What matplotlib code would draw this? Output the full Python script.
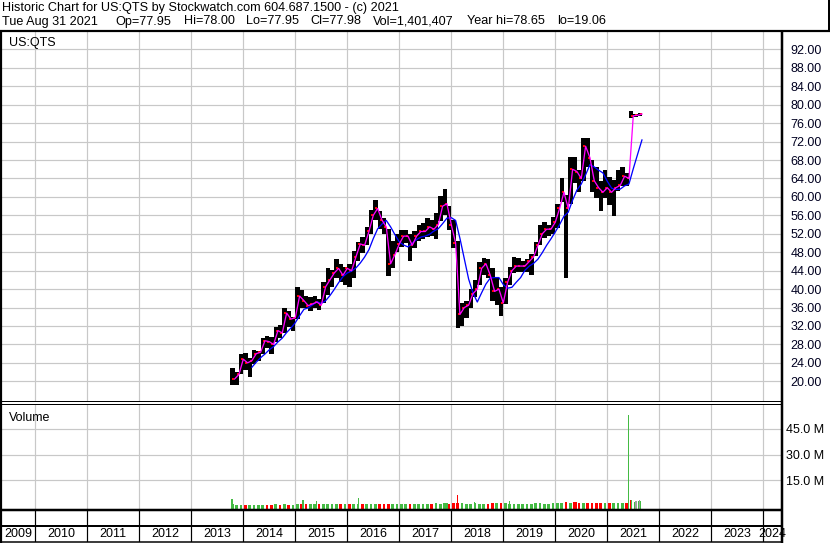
import matplotlib
matplotlib.use("Agg")
import matplotlib.pyplot as plt
import numpy as np
import pandas as pd

plt.rcParams['font.family'] = ['Liberation Sans', 'DejaVu Sans']

# ---------------- data (monthly) ----------------
start_year, start_month = 2013, 10
highs = [22.8, 22.0, 26.0,
         26.2, 25.0, 26.8, 26.5, 29.5, 29.8, 29.6, 31.8, 32.2, 36.0, 35.2, 34.0,
         40.5, 39.8, 38.4, 38.2, 38.6, 37.8, 41.5, 44.6, 44.2, 46.6, 45.5, 44.8,
         45.4, 48.3, 50.2, 51.3, 53.5, 57.2, 59.4, 57.0, 55.5, 53.0, 50.5, 52.0,
         52.8, 52.8, 52.0, 52.5, 54.0, 54.3, 55.5, 55.0, 56.5, 60.2, 61.7, 58.0,
         55.0, 50.5, 37.0, 37.5, 40.0, 42.0, 45.8, 46.7, 46.6, 44.6, 42.5, 40.5,
         42.5, 44.7, 47.0, 46.8, 46.2, 46.5, 47.6, 50.2, 54.0, 54.5, 53.8, 55.6,
         58.5, 64.0, 60.5, 68.7, 68.7, 65.8, 72.7, 72.7, 68.0, 66.5, 63.5, 65.8,
         64.3, 63.6, 65.8, 66.5, 65.2, 78.7, 78.0, 78.2]
lows = [19.2, 19.1, 21.5,
        22.5, 21.0, 23.8, 24.5, 26.0, 27.3, 26.0, 28.5, 29.5, 30.5, 31.8, 31.0,
        33.5, 36.0, 35.8, 35.3, 36.0, 35.5, 37.0, 38.8, 40.5, 42.5, 41.5, 41.0,
        40.4, 42.5, 46.0, 47.8, 49.5, 52.0, 55.0, 53.0, 52.0, 42.9, 44.5, 48.0,
        49.2, 50.0, 46.0, 49.0, 50.5, 50.8, 51.2, 51.5, 50.8, 54.8, 56.0, 52.8,
        49.0, 31.6, 32.0, 33.8, 36.0, 38.2, 41.0, 43.0, 42.5, 37.5, 36.5, 34.2,
        36.8, 41.0, 43.5, 43.8, 43.8, 43.8, 43.0, 47.2, 49.5, 51.0, 51.5, 52.0,
        53.2, 58.8, 42.4, 58.5, 63.0, 61.0, 63.5, 66.5, 61.0, 59.8, 57.0, 59.8,
        58.3, 55.9, 61.2, 62.3, 62.3, 77.2, 77.3, 77.5]
closes = [20.5, 21.5, 24.8,
          24.0, 24.5, 26.0, 26.3, 28.8, 28.6, 28.0, 31.0, 30.5, 34.8, 33.5, 33.8,
          38.5, 37.5, 36.4, 36.8, 37.2, 36.5, 40.5, 42.0, 43.5, 44.5, 43.0, 44.5,
          44.0, 47.0, 49.8, 49.5, 52.5, 56.0, 57.5, 55.0, 53.5, 45.5, 47.5, 49.8,
          51.5, 51.5, 49.5, 51.5, 52.5, 52.5, 53.5, 53.0, 54.0, 58.0, 58.5, 54.0,
          50.0, 34.5, 36.0, 36.5, 39.0, 40.0, 44.5, 45.5, 43.0, 39.5, 40.0, 37.0,
          41.5, 44.0, 45.0, 45.0, 45.0, 46.0, 47.0, 49.5, 52.0, 53.0, 53.0, 54.5,
          57.5, 61.0, 57.5, 66.0, 65.5, 64.0, 71.0, 68.5, 63.5, 62.0, 61.0, 62.0,
          61.0, 62.0, 62.5, 64.5, 64.0, 77.6, 77.7, 77.98]
volumes_m = [1.2, 0.8, 0.9,
             0.8, 0.9, 0.8, 1.0, 0.9, 0.8, 1.0, 1.1, 0.9, 1.2, 1.0, 0.9,
             1.2, 1.3, 1.1, 1.2, 1.4, 1.2, 1.5, 1.3, 1.2, 1.4, 1.5, 1.3,
             1.5, 1.3, 1.2, 1.4, 1.3, 1.5, 1.2, 1.3, 1.4, 1.6, 1.5, 1.3,
             1.4, 1.3, 1.5, 1.4, 1.3, 1.5, 1.4, 1.6, 1.8, 1.5, 1.7, 1.6,
             1.8, 2.2, 1.9, 1.6, 1.5, 1.7, 1.5, 1.4, 1.6, 1.8, 1.7, 1.9,
             1.8, 1.6, 1.5, 1.4, 1.5, 1.6, 1.5, 1.7, 1.8, 1.6, 1.5, 1.8,
             1.9, 2.0, 2.3, 2.1, 2.4, 2.0, 1.9, 1.8, 2.0, 1.9, 2.1, 2.0,
             1.9, 2.0, 2.1, 1.9, 2.0, 3.5, 2.5, 2.8]
# individual volume spikes (decimal year, millions, colour)
spike_dates = [2013.78, 2015.15, 2015.41, 2016.22, 2017.92, 2018.12, 2018.45, 2019.12, 2020.40, 2021.41, 2021.45, 2021.55, 2021.62]
spike_vols = [4.5, 3.6, 3.2, 4.8, 2.2, 6.5, 2.3, 3.1, 2.6, 52.7, 3.8, 3.2, 3.8]
spike_colors = ['g', 'g', 'g', 'g', 'g', 'r', 'g', 'g', 'r', 'g', 'r', 'k', 'k']

price_ticks = [20, 24, 28, 32, 36, 40, 44, 48, 52, 56, 60, 64, 68, 72, 76, 80, 84, 88, 92]
vol_ticks = [15, 30, 45]
years = list(range(2009, 2025))

header1 = "Historic Chart for US:QTS by Stockwatch.com 604.687.1500 - (c) 2021"
header2_fields = ["Tue Aug 31 2021", "Op=77.95", "Hi=78.00", "Lo=77.95", "Cl=77.98",
                  "Vol=1,401,407", "Year hi=78.65", "lo=19.06"]
header2_x = [2, 115, 184, 246, 310, 373, 467, 557]

# ---------------- derived ----------------
n = len(closes)
mid = np.array([start_year + (start_month - 1 + i + 0.5) / 12 for i in range(n)])
mend = mid + 1 / 24
close_s = pd.Series(closes)
ma_fast = close_s.values
ma_slow = close_s.rolling(5).mean().values

W, H = 830, 543
fig = plt.figure(figsize=(W / 100, H / 100), dpi=100)
fig.patch.set_facecolor('white')

def box(x0, y0, x1, y1):
    return [x0 / W, 1 - y1 / H, (x1 - x0) / W, (y1 - y0) / H]

XMIN, XMAX = 2009.36, 2024.36
GRID = '#c8c8c8'
PX = 0.72  # points per pixel

# ---------------- price panel ----------------
ax = fig.add_axes(box(2, 31, 782, 401))
ax.set_xlim(XMIN, XMAX)
ax.set_ylim(15.73, 95.99)
for s in ax.spines.values():
    s.set_visible(False)
ax.set_xticks(range(2010, 2025))
ax.set_xticklabels([])
ax.tick_params(axis='x', length=0)
ax.yaxis.tick_right()
ax.set_yticks(price_ticks)
ax.set_yticklabels([f"{v:.2f}" for v in price_ticks], fontsize=9, color='#000020')
ax.tick_params(axis='y', length=0, pad=6)
ax.grid(True, color=GRID, linewidth=1.2 * PX)
ax.set_axisbelow(True)
ax.bar(mid, np.array(highs) - np.array(lows), bottom=lows, width=1 / 12 * 1.02,
       color='black', linewidth=0, zorder=3)
ax.plot(mid + 0.014, closes, linestyle='none', marker='s', markersize=2 * PX,
        color='red', markeredgewidth=0, zorder=4)
ax.plot(mend, ma_slow, color='#0000ff', linewidth=1.3 * PX, zorder=5)
ax.plot(mend, ma_fast, color='#ff00ff', linewidth=1.3 * PX, zorder=6)
ax.text(7 / 780, 0.985, "US:QTS", transform=ax.transAxes, fontsize=9, va='top', ha='left')

# ---------------- volume panel ----------------
av = fig.add_axes(box(2, 403.5, 782, 509.5))
av.set_xlim(XMIN, XMAX)
av.set_ylim(-1.85, 59.6)
for s in av.spines.values():
    s.set_visible(False)
av.set_xticks(range(2010, 2025))
av.set_xticklabels([])
av.tick_params(axis='x', length=0)
av.yaxis.tick_right()
av.set_yticks(vol_ticks)
av.set_yticklabels([f"{v:.1f} M" for v in vol_ticks], fontsize=9)
av.tick_params(axis='y', length=0, pad=3)
av.grid(True, color=GRID, linewidth=1.2 * PX)
av.set_axisbelow(True)
prev = [closes[0]] + closes[:-1]
vcol = ['#44bb44' if c >= p else '#ff0000' for c, p in zip(closes, prev)]
av.bar(mid, np.array(volumes_m) + 2, bottom=-2, width=1 / 12 * 0.6, color=vcol, linewidth=0, zorder=3)
cmap = {'g': '#44bb44', 'r': '#ff0000', 'k': '#a0a0a0'}
av.bar(spike_dates, np.array(spike_vols) + 2, bottom=-2, width=0.03,
       color=[cmap[c] for c in spike_colors], linewidth=0, zorder=4)
av.text(7 / 780, 0.92, "Volume", transform=av.transAxes, fontsize=9, va='top', ha='left')

# ---------------- year band ----------------
ay = fig.add_axes(box(2, 509.5, 782, 542))
ay.set_xlim(XMIN, XMAX)
ay.set_ylim(0, 1)
ay.axis('off')
ay.vlines(range(2010, 2025), 0, 1, color='black', linewidth=1.2 * PX)
for y in years:
    xc = max(y, XMIN) + (min(y + 1, XMAX) - max(y, XMIN)) / 2
    ay.text(xc, 0.25, str(y), ha='center', va='center', fontsize=9)

# ---------------- frame lines (pixel overlay) ----------------
ov = fig.add_axes([0, 0, 1, 1], zorder=10)
ov.set_xlim(0, W)
ov.set_ylim(H, 0)
ov.axis('off')
ov.patch.set_alpha(0)
lines = [
    ((0, 830), (30.5, 30.5), 2.2),
    ((828.5, 828.5), (0, 31), 2),
    ((1, 1), (31, 543), 2.2),
    ((782, 782), (31, 543), 2.5),
    ((0, 782), (401, 401), 1),
    ((0, 782), (403.5, 403.5), 1),
    ((0, 782), (509.8, 509.8), 2.5),
    ((0, 782), (526, 526), 2),
    ((0, 782), (542, 542), 1.5),
]
for xs, ys, lw in lines:
    ov.plot(xs, ys, color='black', linewidth=lw * PX, solid_capstyle='butt')

fig.text(2 / W, 1 - 7.5 / H, header1, fontsize=9.1, va='center', ha='left')
for txt, xp in zip(header2_fields, header2_x):
    fig.text(xp / W, 1 - 21.5 / H, txt, fontsize=9.1, va='center', ha='left')

fig.savefig("out.png", dpi=100, facecolor='white')
